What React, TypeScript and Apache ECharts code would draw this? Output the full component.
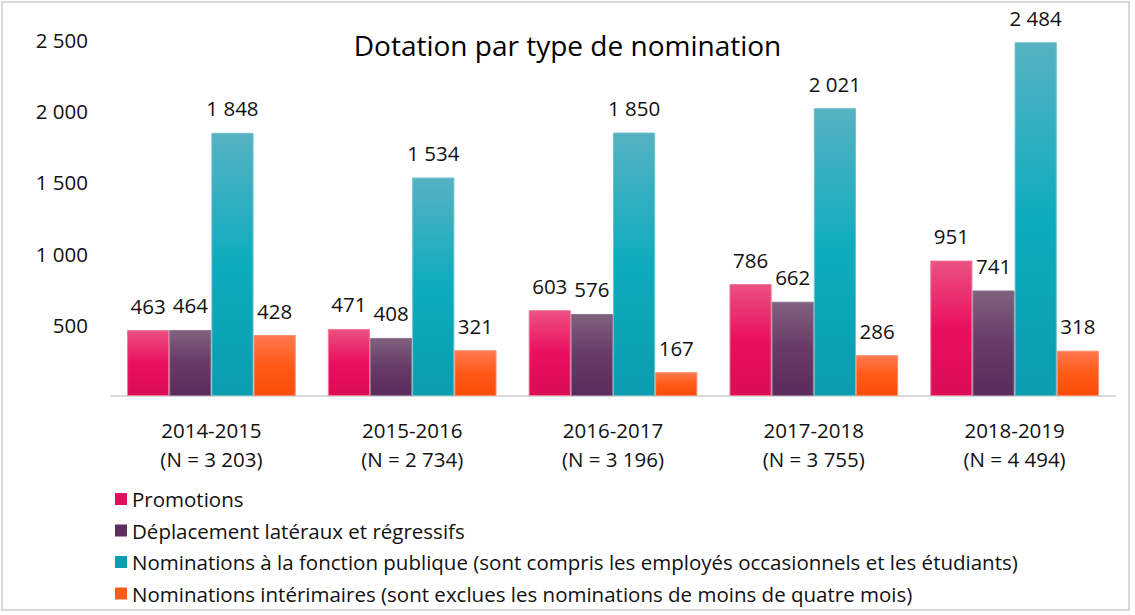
import React, { useEffect, useRef } from "react";
import * as echarts from "echarts";

const years = ["2014-2015", "2015-2016", "2016-2017", "2017-2018", "2018-2019"];
const totals = [3203, 2734, 3196, 3755, 4494];
const seriesNames = [
  "Promotions",
  "Déplacement latéraux et régressifs",
  "Nominations à la fonction publique (sont compris les employés occasionnels et les étudiants)",
  "Nominations intérimaires (sont exclues les nominations de moins de quatre mois)",
];
const promotions = [463, 471, 603, 786, 951];
const deplacements = [464, 408, 576, 662, 741];
const nominationsFP = [1848, 1534, 1850, 2021, 2484];
const interimaires = [428, 321, 167, 286, 318];
const yTicks = [0, 500, 1000, 1500, 2000, 2500];

const FONT = "'Open Sans', 'Noto Sans', sans-serif";
const FS = 20.5;

const fmt = (v: number) => String(v).replace(/\B(?=(\d{3})+(?!\d))/g, " ");

const grad = (top: string, mid: string, bottom: string) =>
  new echarts.graphic.LinearGradient(0, 0, 0, 1, [
    { offset: 0, color: top },
    { offset: 0.5, color: mid },
    { offset: 1, color: bottom },
  ]);

export default function App() {
  const ref = useRef<HTMLDivElement>(null);
  useEffect(() => {
    if (!ref.current) return;
    const chart = echarts.init(ref.current, undefined, { renderer: "svg" });
    const styles = [
      { fill: grad("#EC5180", "#EA0F60", "#DA0C57"), border: "#F07898", legend: "#E60E5E" },
      { fill: grad("#80617F", "#683A66", "#5B2C5C"), border: "#8E7490", legend: "#5E305E" },
      { fill: grad("#55B2C2", "#0CACBE", "#0A9DAF"), border: "#6CC0CC", legend: "#0C9FB0" },
      { fill: grad("#FF7850", "#FF5A16", "#FB4C0A"), border: "#FF8C6C", legend: "#FD5A1A" },
    ];
    const datasets = [promotions, deplacements, nominationsFP, interimaires];
    const categories = years.map((y, i) => `${y}\n(N = ${fmt(totals[i])})`);
    chart.setOption({
      animation: false,
      title: {
        text: "Dotation par type de nomination",
        left: "center",
        top: 26,
        textStyle: { fontFamily: FONT, fontSize: 28, fontWeight: "normal", color: "#000" },
      },
      legend: {
        orient: "vertical",
        left: 110,
        top: 482,
        itemWidth: 12,
        itemHeight: 12,
        itemGap: 7.5,
        itemTextGap: 7,
        icon: "rect",
        textStyle: { fontFamily: FONT, fontSize: FS, color: "#111", lineHeight: 24 },
        data: seriesNames.map((n, i) => ({ name: n, itemStyle: { color: styles[i].legend, borderWidth: 0 } })),
      },
      grid: { left: 111, right: 20, top: 40, bottom: 219, containLabel: false },
      xAxis: {
        type: "category",
        data: categories,
        axisLine: { lineStyle: { color: "#D9D9D9", width: 2 } },
        axisTick: { show: false },
        axisLabel: {
          fontFamily: FONT,
          fontSize: FS,
          color: "#111",
          lineHeight: 29,
          margin: 19,
        },
      },
      yAxis: {
        type: "value",
        min: yTicks[0],
        max: yTicks[yTicks.length - 1],
        interval: 500,
        splitLine: { show: false },
        axisLine: { show: false },
        axisTick: { show: false },
        axisLabel: {
          fontFamily: FONT,
          fontSize: FS,
          color: "#111",
          margin: 23,
          formatter: (v: number) => (v === 0 ? "" : fmt(v)),
        },
      },
      series: datasets.map((d, i) => ({
        name: seriesNames[i],
        type: "bar",
        data: d,
        barGap: "0%",
        barCategoryGap: "16%",
        itemStyle: { color: styles[i].fill, borderColor: styles[i].border, borderWidth: 1 },
        label: {
          show: true,
          position: "top",
          distance: 14,
          fontFamily: FONT,
          fontSize: FS,
          color: "#111",
          formatter: (p: any) => fmt(p.value),
        },
      })),
      graphic: [
        {
          type: "rect",
          shape: { x: 2, y: 2, width: 1127, height: 608 },
          style: { fill: "none", stroke: "#D9D9D9", lineWidth: 2 },
          silent: true,
        },
      ],
    });
    return () => chart.dispose();
  }, []);
  return (
    <div
      ref={ref}
      style={{ position: "fixed", left: 0, top: 0, width: 1135, height: 615, background: "#fff" }}
    />
  );
}
